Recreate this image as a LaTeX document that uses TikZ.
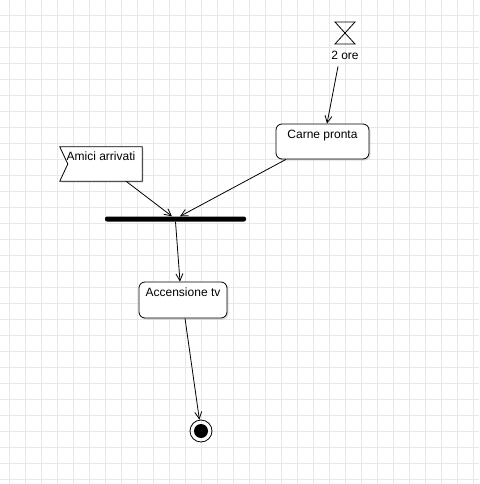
\documentclass[tikz,border=0pt]{standalone}
\usepackage{fontspec}
\setmainfont{Liberation Sans}
\usepackage{xcolor}
\usepackage{tikz}
\usetikzlibrary{positioning, arrows.meta, shadows}
\definecolor{gridline}{RGB}{232,232,232}

\begin{document}
\begin{tikzpicture}[x=1pt, y=-1pt, every node/.style={inner sep=2pt, font=\fontsize{12}{14}\selectfont},
  state/.style={draw, rounded corners=6pt, fill=white, line width=0.8pt,
    drop shadow={shadow xshift=1.5pt, shadow yshift=-1.5pt, opacity=0.25},
    inner ysep=3pt, text height=11pt},
  signal/.style={inner ysep=3pt, text height=10.5pt, minimum width=82pt},
  arrow/.style={-{Straight Barb[length=7pt, width=7pt]}, line width=0.8pt}]
% background grid
\useasboundingbox (0,0) rectangle (479,484);
\fill[white] (0,0) rectangle (479,484);
\foreach \gx in {9,25,...,473} \draw[gridline, line width=0.8pt] (\gx,0) -- (\gx,484);
\foreach \gy in {15,31,...,479} \draw[gridline, line width=0.8pt] (0,\gy) -- (479,\gy);

% timer
\coordinate (timer) at (345,33);
\draw[line width=0.8pt] ([shift={(-10,-11)}]timer) -- ([shift={(10,-11)}]timer)
  -- ([shift={(-10,11)}]timer) -- ([shift={(10,11)}]timer) -- cycle;
\node (timerlbl) at (345,55) {2 ore};

% states
\node[state, minimum width=93pt, minimum height=35pt, text depth=18pt] (carne) at (322.5,141.5) {Carne pronta};
\node[signal, minimum height=34pt, text depth=17.5pt] (amici) at (101,164) {Amici arrivati};
\draw[line width=0.8pt, fill=white, drop shadow={shadow xshift=1.5pt, shadow yshift=-1.5pt, opacity=0.25}]
  (amici.north west) -- (amici.north east) -- (amici.south east) -- (amici.south west)
  -- ([xshift=8pt]amici.west) -- cycle;
\node[signal, minimum height=34pt, text depth=17.5pt] at (amici) {Amici arrivati};
\node[fill=black, rounded corners=2pt, minimum width=141pt, minimum height=5pt, inner sep=0pt] (bar) at (175.5,219) {};
\node[state, minimum width=88pt, minimum height=36pt, text depth=19pt] (accensione) at (183,300) {Accensione tv};
\node[draw, circle, line width=0.8pt, minimum size=22pt, inner sep=0pt] (fine) at (201,431) {};
\fill (fine.center) circle (7);

% flows
\draw[arrow] ([xshift=-7pt, yshift=-5pt]timerlbl.south) -- ([xshift=4.5pt]carne.north);
\draw[arrow] ([xshift=25pt]amici.south) -- ([xshift=-3.5pt]bar.north);
\draw[arrow] ([xshift=-36.5pt]carne.south) -- ([xshift=4.5pt]bar.north);
\draw[arrow] (bar.south) -- ([xshift=-3pt]accensione.north);
\draw[arrow] ([xshift=2pt]accensione.south) -- (fine);
\end{tikzpicture}
\end{document}
